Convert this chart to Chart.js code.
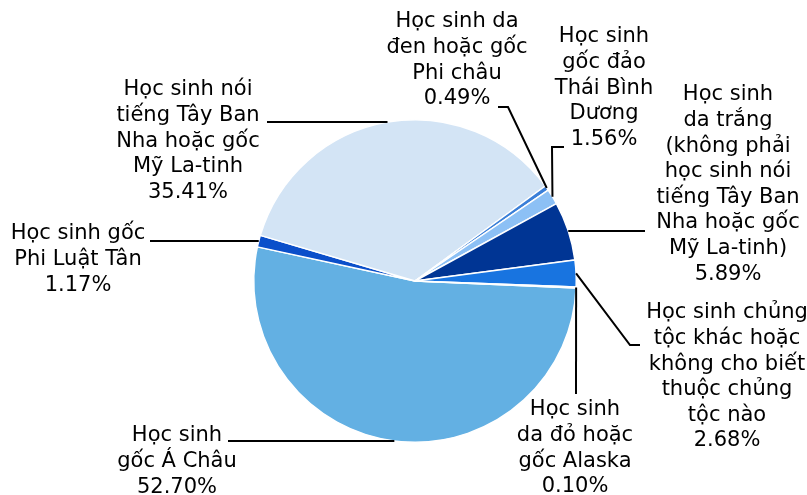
<!DOCTYPE html>
<html>
<head>
<meta charset="utf-8">
<script src="https://cdn.jsdelivr.net/npm/chart.js@4"></script>
<style>
  html, body { margin: 0; padding: 0; background: #fff; }
  #wrap { width: 807px; height: 495px; }
</style>
</head>
<body>
<div id="wrap"><canvas id="pieChart" width="807" height="495"></canvas></div>
<script>
// danh mục và giá trị (%)
const categories = [
    ['Học sinh', 'gốc Á Châu'],
    ['Học sinh gốc', 'Phi Luật Tân'],
    ['Học sinh nói', 'tiếng Tây Ban', 'Nha hoặc gốc', 'Mỹ La-tinh'],
    ['Học sinh da', 'đen hoặc gốc', 'Phi châu'],
    ['Học sinh', 'gốc đảo', 'Thái Bình', 'Dương'],
    ['Học sinh', 'da trắng', '(không phải', 'học sinh nói', 'tiếng Tây Ban', 'Nha hoặc gốc', 'Mỹ La-tinh)'],
    ['Học sinh chủng', 'tộc khác hoặc', 'không cho biết', 'thuộc chủng', 'tộc nào'],
    ['Học sinh', 'da đỏ hoặc', 'gốc Alaska']
];
const percentages = [52.70, 1.17, 35.41, 0.49, 1.56, 5.89, 2.68, 0.10];
const sliceColors = ['#63b0e3', '#0b4fca', '#d3e4f5', '#3a7fd8', '#8cc0f5', '#003594', '#1874e0', '#1c5fc0'];

// vị trí nhãn: tâm x, y dòng đầu, các điểm gấp của đường dẫn
const labelLayout = [
    { x: 177, y: 436, path: [[228, 441]] },
    { x: 78, y: 234, path: [[150, 241]] },
    { x: 188, y: 90, path: [[267, 122]] },
    { x: 457, y: 22, path: [[508, 107], [498, 107]] },
    { x: 604, y: 37, path: [[552, 147], [564, 147]] },
    { x: 728, y: 95, path: [[645, 231]] },
    { x: 727, y: 313, path: [[630, 345], [640, 345]] },
    { x: 575, y: 410, path: [[576, 394]] }
];

const outsideLabels = {
    id: 'outsideLabels',
    afterDraw(chart) {
        const ctx = chart.ctx;
        const arcs = chart.getDatasetMeta(0).data;
        ctx.save();
        ctx.strokeStyle = '#000';
        ctx.lineWidth = 2;
        arcs.forEach((arc, i) => {
            const mid = (arc.startAngle + arc.endAngle) / 2;
            const ax = arc.x + Math.cos(mid) * arc.outerRadius;
            const ay = arc.y + Math.sin(mid) * arc.outerRadius;
            const lay = labelLayout[i];
            ctx.beginPath();
            ctx.moveTo(ax, ay);
            lay.path.forEach(p => ctx.lineTo(p[0], p[1]));
            ctx.stroke();

            const lines = categories[i].concat([percentages[i].toFixed(2) + '%']);
            ctx.fillStyle = '#000';
            ctx.font = '21px "DejaVu Sans", Verdana, sans-serif';
            ctx.textAlign = 'center';
            ctx.textBaseline = 'middle';
            lines.forEach((t, k) => ctx.fillText(t, lay.x, lay.y + k * 25.6));
        });
        ctx.restore();
    }
};

const ctx = document.getElementById('pieChart').getContext('2d');
new Chart(ctx, {
    type: 'pie',
    data: {
        labels: categories.map(c => c.join(' ')),
        datasets: [{
            data: percentages,
            backgroundColor: sliceColors,
            borderColor: '#ffffff',
            borderWidth: 1.5
        }]
    },
    options: {
        responsive: false,
        animation: false,
        rotation: 92.5,
        layout: { padding: { left: 253, right: 230, top: 119, bottom: 52 } },
        plugins: {
            legend: { display: false },
            tooltip: { enabled: false }
        }
    },
    plugins: [outsideLabels]
});
</script>
</body>
</html>
